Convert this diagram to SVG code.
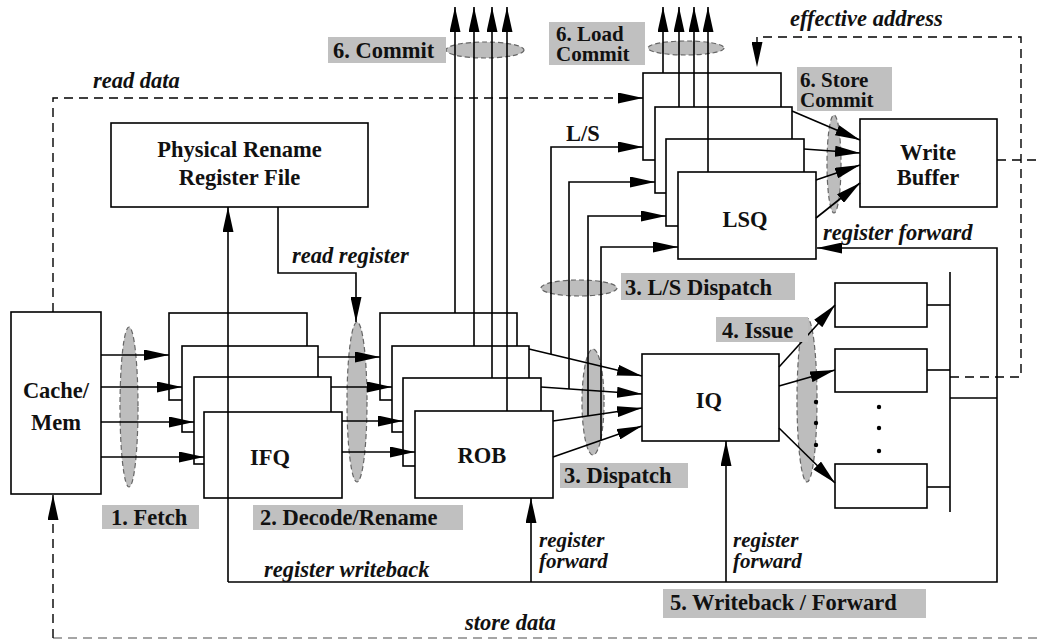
<svg xmlns="http://www.w3.org/2000/svg" width="1037" height="640" viewBox="0 0 1037 640">
<defs>
<style>
.box{fill:#fff;stroke:#000;stroke-width:1.6}
.ln{fill:none;stroke:#000;stroke-width:1.6}
.ds{fill:none;stroke:#000;stroke-width:1.4;stroke-dasharray:9 6}
.lbl{fill:#c0c0c0}
.ell{fill:#bdbdbd;stroke:#666;stroke-width:1.2;stroke-dasharray:5 3}
.it{font-style:italic}
.c{text-anchor:middle}
.sm{font-size:21px}
</style>
<marker id="ah" markerUnits="userSpaceOnUse" markerWidth="25" markerHeight="11" refX="25" refY="5.5" orient="auto"><path d="M0,0 L25,5.5 L0,11 z" fill="#000"/></marker>
</defs>
<rect width="1037" height="640" fill="#fff"/>

<g id="stage-ellipses">
<ellipse class="ell" cx="129" cy="407" rx="9" ry="80"/>
<ellipse class="ell" cx="357" cy="402" rx="10" ry="80"/>
<ellipse class="ell" cx="593" cy="402" rx="11" ry="53"/>
<ellipse class="ell" cx="579" cy="288" rx="38" ry="8"/>
<ellipse class="ell" cx="807" cy="400" rx="10" ry="82"/>
<ellipse class="ell" cx="485" cy="50" rx="39" ry="8"/>
<ellipse class="ell" cx="686" cy="48" rx="38" ry="7"/>
<ellipse class="ell" cx="834" cy="164" rx="7" ry="49"/>
</g>

<g font-family="Liberation Serif, DejaVu Serif, serif" font-weight="bold" font-size="22.5" fill="#111">

<g id="cache-mem">
<rect class="box" x="11" y="312" width="90" height="182"/>
<text class="c" x="56" y="398">Cache/</text>
<text class="c" x="56" y="430">Mem</text>
</g>

<g id="prf">
<rect class="box" x="111" y="123" width="257" height="84"/>
<text class="c" x="239.5" y="157">Physical Rename</text>
<text class="c" x="239.5" y="185">Register File</text>
</g>

<g id="ifq">
<rect class="box" x="169" y="313" width="138" height="87"/>
<rect class="box" x="182" y="346" width="136" height="86"/>
<rect class="box" x="194" y="377" width="137" height="87"/>
<rect class="box" x="204" y="412" width="138" height="86"/>
<text class="c" x="270" y="465">IFQ</text>
</g>

<g id="rob">
<rect class="box" x="380" y="313" width="137" height="87"/>
<rect class="box" x="392" y="346" width="137" height="86"/>
<rect class="box" x="403" y="378" width="138" height="88"/>
<rect class="box" x="415" y="411" width="138" height="87"/>
<text class="c" x="482" y="463">ROB</text>
</g>

<g id="lsq">
<rect class="box" x="643" y="73" width="138" height="87"/>
<rect class="box" x="655" y="107" width="137" height="86"/>
<rect class="box" x="666" y="139" width="138" height="87"/>
<rect class="box" x="678" y="172" width="138" height="87"/>
<text class="c" x="745" y="227">LSQ</text>
</g>

<g id="write-buffer">
<rect class="box" x="860" y="119" width="137" height="88"/>
<text class="c" x="928" y="160">Write</text>
<text class="c" x="928" y="185">Buffer</text>
</g>

<g id="iq">
<rect class="box" x="642" y="354" width="137" height="87"/>
<text class="c" x="709" y="408">IQ</text>
</g>

<g id="fu1"><rect class="box" x="835" y="283" width="92" height="44"/></g>
<g id="fu2"><rect class="box" x="835" y="349" width="92" height="43"/></g>
<g id="fu3"><rect class="box" x="835" y="464" width="92" height="44"/></g>

<g id="connectors">
<line class="ln" x1="101" y1="355" x2="169" y2="355" marker-end="url(#ah)"/>
<line class="ln" x1="101" y1="387" x2="182" y2="387" marker-end="url(#ah)"/>
<line class="ln" x1="101" y1="422" x2="194" y2="422" marker-end="url(#ah)"/>
<line class="ln" x1="101" y1="457" x2="204" y2="457" marker-end="url(#ah)"/>
<line class="ln" x1="318" y1="357" x2="380" y2="357" marker-end="url(#ah)"/>
<line class="ln" x1="331" y1="387" x2="392" y2="387" marker-end="url(#ah)"/>
<line class="ln" x1="342" y1="421" x2="403" y2="421" marker-end="url(#ah)"/>
<line class="ln" x1="342" y1="452" x2="415" y2="452" marker-end="url(#ah)"/>
<polyline class="ln" points="278,207 278,273 356,273 356,322" marker-end="url(#ah)"/>
<line class="ln" x1="228" y1="582" x2="228" y2="207" marker-end="url(#ah)"/>
<polyline class="ln" points="228,582 997,582 997,248 817,248" marker-end="url(#ah)"/>
<line class="ln" x1="531" y1="582" x2="531" y2="498" marker-end="url(#ah)"/>
<line class="ln" x1="726" y1="582" x2="726" y2="441" marker-end="url(#ah)"/>
<line class="ln" x1="950" y1="398" x2="997" y2="398"/>
<line class="ln" x1="455" y1="313" x2="455" y2="7" marker-end="url(#ah)"/>
<line class="ln" x1="474" y1="346" x2="474" y2="7" marker-end="url(#ah)"/>
<line class="ln" x1="492" y1="378" x2="492" y2="7" marker-end="url(#ah)"/>
<line class="ln" x1="507" y1="411" x2="507" y2="7" marker-end="url(#ah)"/>
<line class="ln" x1="663" y1="73" x2="663" y2="7" marker-end="url(#ah)"/>
<line class="ln" x1="679" y1="107" x2="679" y2="7" marker-end="url(#ah)"/>
<line class="ln" x1="694" y1="107" x2="694" y2="7" marker-end="url(#ah)"/>
<line class="ln" x1="708" y1="172" x2="708" y2="7" marker-end="url(#ah)"/>
<line class="ln" x1="529" y1="349" x2="642" y2="376" marker-end="url(#ah)"/>
<line class="ln" x1="541" y1="387" x2="642" y2="394" marker-end="url(#ah)"/>
<line class="ln" x1="553" y1="421" x2="642" y2="408" marker-end="url(#ah)"/>
<line class="ln" x1="553" y1="457" x2="642" y2="426" marker-end="url(#ah)"/>
<polyline class="ln" points="551,354 551,147 643,147" marker-end="url(#ah)"/>
<polyline class="ln" points="569,389 569,182 655,182" marker-end="url(#ah)"/>
<polyline class="ln" points="588,416 588,216 666,216" marker-end="url(#ah)"/>
<polyline class="ln" points="601,440 601,247 678,247" marker-end="url(#ah)"/>
<line class="ln" x1="792" y1="111" x2="860" y2="140" marker-end="url(#ah)"/>
<line class="ln" x1="804" y1="149" x2="860" y2="153" marker-end="url(#ah)"/>
<line class="ln" x1="816" y1="180" x2="860" y2="165" marker-end="url(#ah)"/>
<line class="ln" x1="816" y1="218" x2="860" y2="183" marker-end="url(#ah)"/>
<line class="ln" x1="779" y1="367" x2="835" y2="305" marker-end="url(#ah)"/>
<line class="ln" x1="779" y1="386" x2="835" y2="370" marker-end="url(#ah)"/>
<line class="ln" x1="779" y1="428" x2="835" y2="483" marker-end="url(#ah)"/>
<line class="ln" x1="950" y1="272" x2="950" y2="512"/>
<line class="ln" x1="927" y1="305" x2="950" y2="305"/>
<line class="ln" x1="927" y1="370" x2="950" y2="370"/>
<line class="ln" x1="927" y1="487" x2="950" y2="487"/>
<polyline class="ds" points="53,312 53,98 643,98" marker-end="url(#ah)"/>
<polyline class="ds" points="950,377 1021,377 1021,37 757,37 757,67" marker-end="url(#ah)"/>
<line class="ds" x1="997" y1="160" x2="1037" y2="160"/>
<line class="ds" x1="1037" y1="638" x2="53" y2="638" style="stroke:#888"/>
<line class="ds" x1="53" y1="638" x2="53" y2="495" marker-end="url(#ah)"/>
</g>

<g id="dots" fill="#000">
<circle cx="816" cy="402" r="2.2"/><circle cx="816" cy="423" r="2.2"/><circle cx="816" cy="445" r="2.2"/>
<circle cx="879" cy="407" r="2.2"/><circle cx="879" cy="428" r="2.2"/><circle cx="879" cy="451" r="2.2"/>
</g>

<g id="stage-labels">
<rect class="lbl" x="328" y="37" width="118" height="26"/>
<text x="333" y="58">6. Commit</text>
<rect class="lbl" x="549" y="22" width="96" height="43"/>
<text class="sm" x="556" y="41">6. Load</text>
<text class="sm" x="556" y="61">Commit</text>
<rect class="lbl" x="797" y="67" width="95" height="44"/>
<text class="sm" x="800" y="87">6. Store</text>
<text class="sm" x="800" y="107">Commit</text>
<rect class="lbl" x="621" y="273" width="174" height="27"/>
<text x="625" y="295">3. L/S Dispatch</text>
<rect class="lbl" x="716" y="317" width="92" height="25"/>
<text x="722" y="338">4. Issue</text>
<rect class="lbl" x="560" y="463" width="128" height="25"/>
<text x="564" y="483">3. Dispatch</text>
<rect class="lbl" x="102" y="505" width="97" height="24"/>
<text x="111" y="525">1. Fetch</text>
<rect class="lbl" x="253" y="505" width="210" height="25"/>
<text x="260" y="525">2. Decode/Rename</text>
<rect class="lbl" x="663" y="589" width="263" height="29"/>
<text x="670" y="610">5. Writeback / Forward</text>
</g>

<g id="edge-labels">
<text class="it" x="93" y="88">read data</text>
<text class="it" x="292" y="263">read register</text>
<text class="it" x="790" y="26">effective address</text>
<text x="566" y="141">L/S</text>
<text class="it" x="823" y="240">register forward</text>
<text class="it" x="264" y="577">register writeback</text>
<text class="it sm" x="539" y="547">register</text>
<text class="it sm" x="539" y="568">forward</text>
<text class="it sm" x="733" y="547">register</text>
<text class="it sm" x="733" y="568">forward</text>
<text class="it" x="465" y="630">store data</text>
</g>
</g>
</svg>
